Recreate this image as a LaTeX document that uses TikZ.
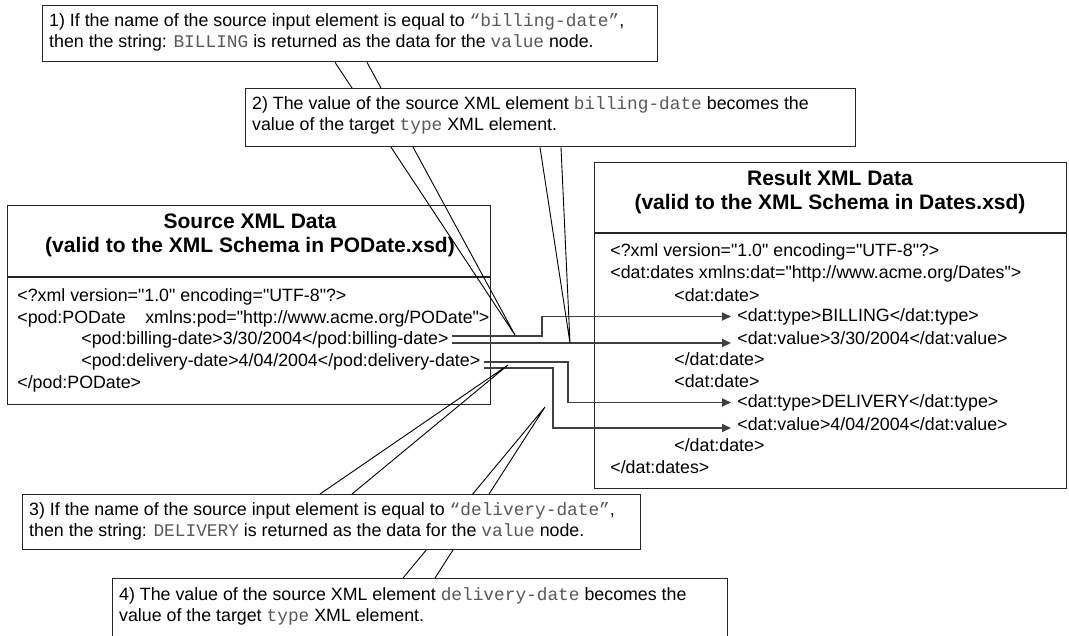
\documentclass[tikz,border=0pt]{standalone}
\usepackage{fontspec}
\setmainfont{Liberation Sans}
\setmonofont{Liberation Mono}
\newfontfamily\xmlfont{Liberation Sans}
\usetikzlibrary{shapes, arrows, arrows.meta, positioning}

\newcommand{\bodysize}{\fontsize{17.8}{21.5}\selectfont}
\newcommand{\headsize}{\fontsize{21}{26}\selectfont}
\newcommand{\code}[1]{{\ttfamily\color{black!65}#1}}

\pgfdeclarelayer{front}
\pgfsetlayers{main,front}

\tikzset{
  panel/.style={draw=black!85, line width=1.3pt, fill=white, anchor=north west, inner sep=0pt},
  note/.style={panel},
  heading/.style={font=\headsize\bfseries, inner sep=0pt},
  line/.style={anchor=west, inner sep=3pt, font=\xmlfont\bodysize},
  rline/.style={anchor=west, inner xsep=6pt, inner ysep=2pt, font=\xmlfont\bodysize},
  notetext/.style={anchor=north west, inner sep=0pt, align=left, font=\bodysize},
  flow/.style={->, draw=black!75, line width=1.7pt},
  pointer/.style={draw=black, line width=0.9pt}
}

\begin{document}
\begin{tikzpicture}[x=1pt, y=-1pt, >={Triangle[length=9pt, width=8pt]}, thick]
\useasboundingbox (0,0) rectangle (1069,635);

\node[panel, minimum width=483pt, minimum height=199pt] (src) at (7,205) {};
\draw[draw=black!85, line width=1.3pt] (src.west |- 0,277) -- (src.east |- 0,277);
\node[heading] (srcA) at (250,221) {Source XML Data};
\node[heading] (srcB) at (250,247) {(valid to the XML Schema in PODate.xsd)};
\node[line] (s1) at (14,297) {<?xml version="1.0" encoding="UTF-8"?>};
\node[line] (s2) at (14,319) {<pod:PODate\hspace{1.1em}xmlns:pod="http://www.acme.org/PODate">};
\node[line] (s3) at (78,340) {<pod:billing-date>3/30/2004</pod:billing-date>};
\node[line] (s4) at (78,362) {<pod:delivery-date>4/04/2004</pod:delivery-date>};
\node[line] (s5) at (14,384) {</pod:PODate>};

\node[panel, minimum width=472pt, minimum height=326pt] (res) at (594,162) {};
\draw[draw=black!85, line width=1.3pt] (res.west |- 0,233) -- (res.east |- 0,233);
\node[heading] (resA) at (830,178) {Result XML Data};
\node[heading] (resB) at (830,204) {(valid to the XML Schema in Dates.xsd)};
\node[rline] (r1) at (604,252) {<?xml version="1.0" encoding="UTF-8"?>};
\node[rline] (r2) at (604,273.5) {<dat:dates xmlns:dat="http://www.acme.org/Dates">};
\node[rline] (r3) at (668,295) {<dat:date>};
\node[rline] (r4) at (731,316.5) {<dat:type>BILLING</dat:type>};
\node[rline] (r5) at (731,338) {<dat:value>3/30/2004</dat:value>};
\node[rline] (r6) at (668,359.5) {</dat:date>};
\node[rline] (r7) at (668,381) {<dat:date>};
\node[rline] (r8) at (731,402.5) {<dat:type>DELIVERY</dat:type>};
\node[rline] (r9) at (731,424) {<dat:value>4/04/2004</dat:value>};
\node[rline] (r10) at (668,445.5) {</dat:date>};
\node[rline] (r11) at (604,467) {</dat:dates>};

\coordinate (k1) at (542,0);
\coordinate (k2) at (568,0);
\coordinate (k3) at (553,0);
\coordinate (b1) at ([yshift=4pt]s3.east);
\coordinate (b2) at ([yshift=-3pt]s3.east);
\coordinate (d1) at (s4.east);
\coordinate (d2) at ([yshift=-6pt]s4.east);
\draw[flow] (b1) -- (b1 -| k1) |- (r4.west);
\draw[flow] (b2) -- (b2 -| r5.west);
\draw[flow] (d1) -- (d1 -| k2) |- (r8.west);
\draw[flow] (d2) -- (d2 -| k3) |- ([yshift=-4pt]r9.west);

\begin{pgfonlayer}{front}
\node[note, minimum width=615pt, minimum height=56pt] (note1) at (42,5) {};
\node[notetext] (note1t) at ([xshift=7pt, yshift=-8pt]note1.north west)
  {1) If the name of the source input element is equal to \code{“billing-date”},\\
   then the string: \code{BILLING} is returned as the data for the \code{value} node.};
\end{pgfonlayer}

\coordinate (t1) at (515,335);
\draw[pointer] ([xshift=293pt]note1.south west) -- (t1) -- ([xshift=325pt]note1.south west);

\begin{pgfonlayer}{front}
\node[note, minimum width=610pt, minimum height=58pt] (note2) at (245,88) {};
\node[notetext] (note2t) at ([xshift=7pt, yshift=-8pt]note2.north west)
  {2) The value of the source XML element \code{billing-date} becomes the\\
   value of the target \code{type} XML element.};
\node[note, minimum width=618pt, minimum height=55pt] (note3) at (22,494) {};
\node[notetext] (note3t) at ([xshift=7pt, yshift=-8pt]note3.north west)
  {3) If the name of the source input element is equal to \code{“delivery-date”},\\
   then the string: \code{DELIVERY} is returned as the data for the \code{value} node.};
\node[note, minimum width=615pt, minimum height=70pt] (note4) at (112,578) {};
\node[notetext] (note4t) at ([xshift=7pt, yshift=-9pt]note4.north west)
  {4) The value of the source XML element \code{delivery-date} becomes the\\
   value of the target \code{type} XML element.};
\end{pgfonlayer}

\coordinate (t2) at (570,343);
\coordinate (t3) at (508,365);
\coordinate (t4) at (545,407);
\draw[pointer] ([xshift=295pt]note2.south west) -- (t2) -- ([xshift=316pt]note2.south west);
\draw[pointer] ([xshift=298pt]note3.north west) -- (t3) -- ([xshift=330pt]note3.north west);
\draw[pointer] ([xshift=291pt]note4.north west) -- (t4) -- ([xshift=323pt]note4.north west);
\end{tikzpicture}
\end{document}
